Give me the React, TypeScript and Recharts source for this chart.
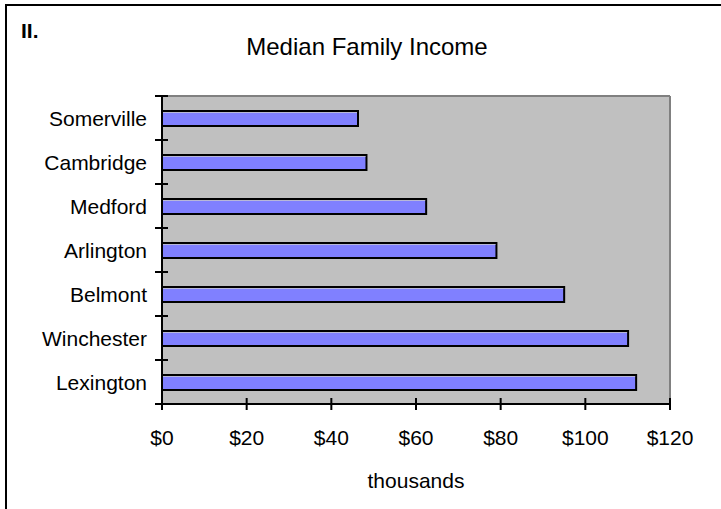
import React from 'react';
import { Bar, BarChart, CartesianGrid, ReferenceLine, XAxis, YAxis } from 'recharts';

const towns = ['Somerville', 'Cambridge', 'Medford', 'Arlington', 'Belmont', 'Winchester', 'Lexington'];
const incomes = [46.3, 48.3, 62.4, 79.0, 95.0, 110.1, 112.0];
const xTicks = [0, 20, 40, 60, 80, 100, 120];

const chartData = towns.map((town, i) => ({ town, income: incomes[i] }));

const FONT = '"Liberation Sans", Arial, sans-serif';
const BAND = 44;

const TownTick = (props: any) => {
  const { x, y, payload, index } = props;
  return (
    <g>
      {index === 0 && <line x1={x - 7} x2={x + 6} y1={y - BAND / 2} y2={y - BAND / 2} stroke="#000" strokeWidth={2} />}
      <line x1={x - 7} x2={x + 6} y1={y + BAND / 2} y2={y + BAND / 2} stroke="#000" strokeWidth={2} />
      <text x={x - 15} y={y + 8} textAnchor="end" fontSize={21} fontFamily={FONT} fill="#000">
        {payload.value}
      </text>
    </g>
  );
};

const DollarTick = (props: any) => {
  const { x, y, payload } = props;
  return (
    <g>
      <line x1={x} x2={x} y1={y - 6} y2={y + 6} stroke="#000" strokeWidth={2} />
      <text x={x} y={y + 41} textAnchor="middle" fontSize={21} fontFamily={FONT} fill="#000">
        ${payload.value}
      </text>
    </g>
  );
};

// excel-style bar: outlined rect with a faint highlight just under the top edge
const ShadedBar = (props: any) => {
  const { x, y, width, height } = props;
  if (!width || !height) return null;
  return (
    <g>
      <rect x={x} y={y} width={width} height={height} fill="#8080ff" stroke="#000" strokeWidth={2} />
      <line x1={x + 1} x2={x + width - 1} y1={y + 1.5} y2={y + 1.5} stroke="#b8b8d8" strokeWidth={1} />
    </g>
  );
};

export default function App() {
  return (
    <div style={{ position: 'absolute', left: 0, top: 0, width: 721, height: 509, background: '#fff' }}>
      <div style={{ position: 'absolute', left: 5, top: 4, width: 716, height: 2, background: '#000' }} />
      <div style={{ position: 'absolute', left: 5, top: 4, width: 2, height: 505, background: '#000' }} />
      <BarChart
        width={721}
        height={509}
        layout="vertical"
        data={chartData}
        margin={{ top: 96, right: 51, bottom: 75, left: 12 }}
        barCategoryGap={0}
      >
        <CartesianGrid horizontal={false} vertical={false} fill="#c0c0c0" />
        <XAxis
          type="number"
          domain={[0, 120]}
          ticks={xTicks}
          interval={0}
          height={30}
          axisLine={{ stroke: '#000', strokeWidth: 2 }}
          tickLine={false}
          tickSize={0}
          tickMargin={0}
          tick={<DollarTick />}
        />
        <YAxis
          type="category"
          dataKey="town"
          width={150}
          interval={0}
          axisLine={{ stroke: '#000', strokeWidth: 2 }}
          tickLine={false}
          tickSize={0}
          tickMargin={0}
          tick={<TownTick />}
        />
        <ReferenceLine x={120} stroke="#808080" strokeWidth={2} />
        <ReferenceLine y="Somerville" position="start" stroke="#808080" strokeWidth={2} />
        <Bar dataKey="income" barSize={15} shape={<ShadedBar />} isAnimationActive={false} />
      </BarChart>
      <svg width={721} height={509} style={{ position: 'absolute', left: 0, top: 0, pointerEvents: 'none' }}>
        <text x={21} y={38} fontSize={21} fontWeight="bold" fontFamily={FONT} fill="#000">II.</text>
        <text x={367} y={55} textAnchor="middle" fontSize={24} fontFamily={FONT} fill="#000">Median Family Income</text>
        <text x={416} y={488} textAnchor="middle" fontSize={21} fontFamily={FONT} fill="#000">thousands</text>
      </svg>
    </div>
  );
}
